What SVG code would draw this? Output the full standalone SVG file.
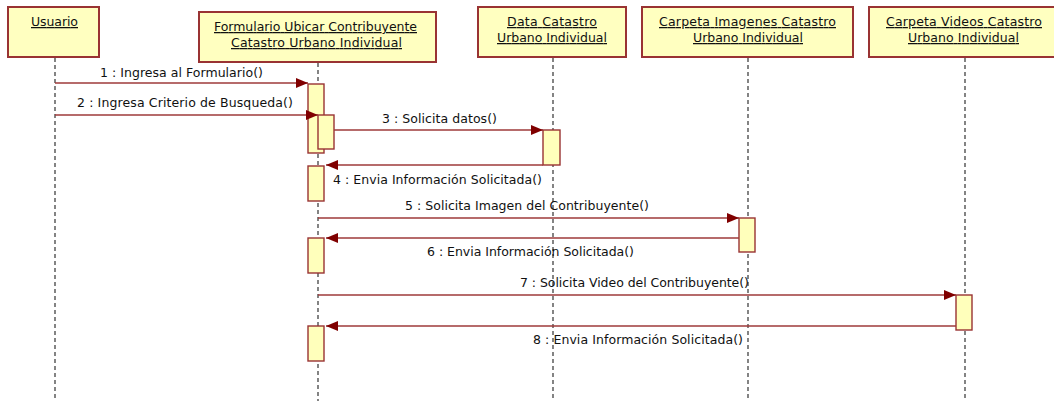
<svg xmlns="http://www.w3.org/2000/svg" width="1054" height="401" viewBox="0 0 1054 401">
  <style>
    .obj { fill: #FFFFC0; stroke: #993333; stroke-width: 2; }
    .act { fill: #FFFFBB; stroke: #993333; stroke-width: 1.4; }
    .life { stroke: #333333; stroke-width: 1.2; stroke-dasharray: 4 3; fill: none; }
    .msg { stroke: #9E3A3A; stroke-width: 1.5; fill: none; }
    .name { font-family: "DejaVu Sans", "Liberation Sans", sans-serif; font-size: 12.5px; fill: #111111; text-anchor: middle; text-decoration: underline; }
    .lbl { font-family: "DejaVu Sans", "Liberation Sans", sans-serif; font-size: 12.5px; fill: #111111; text-anchor: middle; }
  </style>
  <defs>
    <marker id="head" viewBox="0 0 12 10" refX="12" refY="5" markerWidth="12" markerHeight="10" markerUnits="userSpaceOnUse" orient="auto">
      <path d="M0,0 L12,5 L0,10 Z" fill="#800000"/>
    </marker>
  </defs>
  <rect width="1054" height="401" fill="#FFFFFF"/>

  <!-- lifelines -->
  <g id="lifelines">
    <line class="life" x1="55" y1="58" x2="55" y2="401"/>
    <line class="life" x1="318" y1="63" x2="318" y2="401"/>
    <line class="life" x1="553" y1="58" x2="553" y2="401"/>
    <line class="life" x1="748" y1="58" x2="748" y2="401"/>
    <line class="life" x1="965" y1="58" x2="965" y2="401"/>
  </g>

  <!-- objects -->
  <g id="usuario">
    <rect class="obj" x="8" y="7" width="91" height="50"/>
    <text class="name" x="54.5" y="26" textLength="47">Usuario</text>
  </g>
  <g id="formulario">
    <rect class="obj" x="199" y="12" width="237" height="50"/>
    <text class="name" x="315.5" y="31" textLength="203">Formulario Ubicar Contribuyente</text>
    <text class="name" x="316.5" y="47" textLength="171">Catastro Urbano Individual</text>
    <rect class="act" x="308" y="84" width="16" height="69"/>
    <rect class="act" x="318" y="115" width="16" height="34"/>
    <rect class="act" x="308" y="166" width="16" height="35"/>
    <rect class="act" x="308" y="238" width="16" height="35"/>
    <rect class="act" x="308" y="326" width="16" height="35"/>
  </g>
  <g id="data-catastro">
    <rect class="obj" x="478" y="7" width="148" height="50"/>
    <text class="name" x="552" y="26" textLength="90">Data Catastro</text>
    <text class="name" x="552" y="42" textLength="110">Urbano Individual</text>
    <rect class="act" x="543" y="130" width="17" height="35"/>
  </g>
  <g id="carpeta-imagenes">
    <rect class="obj" x="642" y="7" width="211" height="50"/>
    <text class="name" x="747.5" y="26" textLength="177">Carpeta Imagenes Catastro</text>
    <text class="name" x="748" y="42" textLength="110">Urbano Individual</text>
    <rect class="act" x="739" y="218" width="16" height="34"/>
  </g>
  <g id="carpeta-videos">
    <rect class="obj" x="869" y="7" width="192" height="50"/>
    <text class="name" x="964" y="26" textLength="156">Carpeta Videos Catastro</text>
    <text class="name" x="963.5" y="42" textLength="111">Urbano Individual</text>
    <rect class="act" x="956" y="295" width="16" height="35"/>
  </g>

  <!-- messages -->
  <g id="connectors">
    <line class="msg" x1="55" y1="83" x2="308" y2="83" marker-end="url(#head)"/>
    <line class="msg" x1="55" y1="115" x2="318" y2="115" marker-end="url(#head)"/>
    <line class="msg" x1="334" y1="130" x2="543" y2="130" marker-end="url(#head)"/>
    <line class="msg" x1="543" y1="165" x2="326" y2="165" marker-end="url(#head)"/>
    <line class="msg" x1="318" y1="218" x2="739" y2="218" marker-end="url(#head)"/>
    <line class="msg" x1="739" y1="238" x2="326" y2="238" marker-end="url(#head)"/>
    <line class="msg" x1="318" y1="295" x2="956" y2="295" marker-end="url(#head)"/>
    <line class="msg" x1="956" y1="326" x2="326" y2="326" marker-end="url(#head)"/>
    <text class="lbl" x="181.5" y="77" textLength="163">1 : Ingresa al Formulario()</text>
    <text class="lbl" x="185" y="107" textLength="216">2 : Ingresa Criterio de Busqueda()</text>
    <text class="lbl" x="439.5" y="123" textLength="115">3 : Solicita datos()</text>
    <text class="lbl" x="437.5" y="184" textLength="209">4 : Envia Información Solicitada()</text>
    <text class="lbl" x="527" y="210" textLength="244">5 : Solicita Imagen del Contribuyente()</text>
    <text class="lbl" x="530.5" y="256" textLength="207">6 : Envia Información Solicitada()</text>
    <text class="lbl" x="634.5" y="287" textLength="229">7 : Solicita Video del Contribuyente()</text>
    <text class="lbl" x="638" y="344" textLength="210">8 : Envia Información Solicitada()</text>
  </g>
</svg>
